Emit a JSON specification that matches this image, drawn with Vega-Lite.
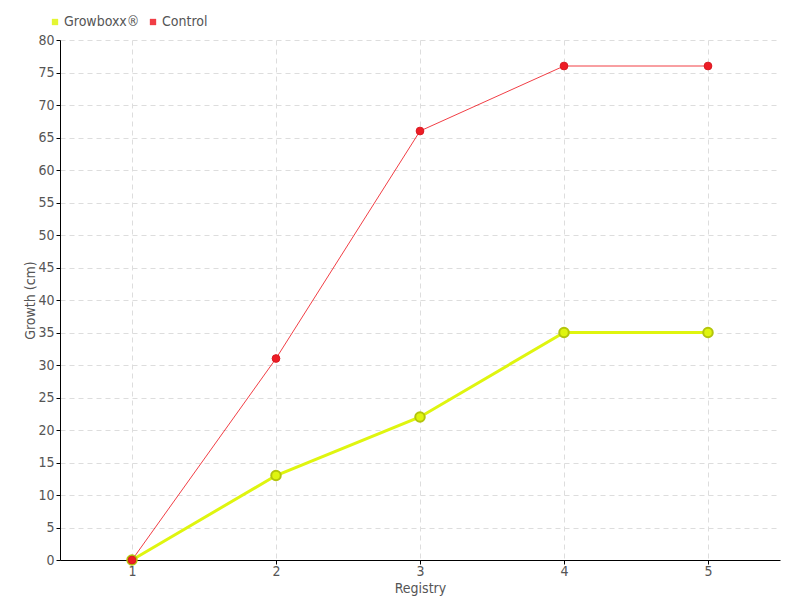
{
  "$schema": "https://vega.github.io/schema/vega-lite/v6.json",
  "autosize": "none",
  "width": 720,
  "height": 520,
  "padding": {"left": 60, "top": 40, "right": 20, "bottom": 40},
  "background": "white",
  "config": {
    "view": {"stroke": null},
    "font": "DejaVu Sans Condensed",
    "axis": {
      "labelFont": "DejaVu Sans Condensed",
      "titleFont": "DejaVu Sans Condensed",
      "labelColor": "#555555",
      "titleColor": "#555555",
      "labelFontSize": 14,
      "titleFontSize": 14,
      "titleFontWeight": "normal",
      "domainColor": "#000000",
      "tickColor": "#000000",
      "gridColor": "#dddddd",
      "gridDash": [5, 4],
      "tickSize": 4
    }
  },
  "data": {
    "values": [
      {"series": "Control", "registry": 1, "growth": 0},
      {"series": "Control", "registry": 2, "growth": 31},
      {"series": "Control", "registry": 3, "growth": 66},
      {"series": "Control", "registry": 4, "growth": 76},
      {"series": "Control", "registry": 5, "growth": 76},
      {"series": "Growboxx®", "registry": 1, "growth": 0},
      {"series": "Growboxx®", "registry": 2, "growth": 13},
      {"series": "Growboxx®", "registry": 3, "growth": 22},
      {"series": "Growboxx®", "registry": 4, "growth": 35},
      {"series": "Growboxx®", "registry": 5, "growth": 35}
    ]
  },
  "encoding": {
    "x": {
      "field": "registry", "type": "quantitative",
      "scale": {"domain": [0.5, 5.5], "nice": false, "zero": false},
      "axis": {"values": [1, 2, 3, 4, 5], "title": "Registry", "titlePadding": 3, "labelPadding": 0, "format": "d"}
    },
    "y": {
      "field": "growth", "type": "quantitative",
      "scale": {"domain": [0, 80], "nice": false},
      "axis": {"values": [0,5,10,15,20,25,30,35,40,45,50,55,60,65,70,75,80], "title": "Growth (cm)", "titlePadding": 0, "labelPadding": 2}
    },
    "color": {
      "field": "series", "type": "nominal",
      "scale": {"domain": ["Growboxx®", "Control"], "range": ["#dff50f", "#ee1c25"]},
      "legend": {
        "orient": "none", "legendX": -12, "legendY": -25, "direction": "horizontal",
        "title": null, "symbolType": "square", "symbolSize": 40, "symbolStrokeWidth": 0,
        "labelFont": "DejaVu Sans Condensed", "labelFontSize": 14, "labelColor": "#555555",
        "labelOffset": 2, "columnPadding": 6
      }
    }
  },
  "layer": [
    {
      "transform": [{"filter": "datum.series == 'Control'"}],
      "mark": {"type": "line", "strokeWidth": 1, "color": "#ee1c25", "opacity": 0.85}
    },
    {
      "transform": [{"filter": "datum.series == 'Growboxx®'"}],
      "mark": {"type": "line", "strokeWidth": 3, "color": "#dff50f"}
    },
    {
      "transform": [{"filter": "datum.series == 'Growboxx®'"}],
      "mark": {"type": "point", "filled": true, "size": 90, "fill": "#dff50f", "stroke": "#b3c40c", "strokeWidth": 2, "opacity": 1}
    },
    {
      "transform": [{"filter": "datum.series == 'Control'"}],
      "mark": {"type": "point", "filled": true, "size": 60, "fill": "#ee1c25", "stroke": "#d81820", "strokeWidth": 1, "opacity": 1}
    }
  ]
}
